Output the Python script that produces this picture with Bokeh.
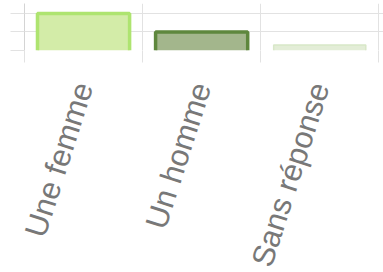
from bokeh.plotting import figure
from bokeh.models import LinearAxis, FixedTicker, Range1d, ColumnDataSource
from bokeh.embed import file_html
from bokeh.resources import INLINE

categories = ["Une femme", "Un homme", "Sans réponse"]
values = [20, 10, 3]
y_ticks = [0, 10, 20]
fill_colors = ["#d3eca8", "#a3b68c", "#e3edd7"]
border_colors = ["#aee470", "#5e873d", "#d8e7c8"]

grid_color = "#e2e2e2"
label_color = "#787878"
bar_width = 0.78

centers = [i + 0.5 for i in range(len(categories))]
bounds = list(range(len(categories) + 1))

p = figure(frame_width=359, frame_height=47, x_range=Range1d(0, 3.04), y_range=Range1d(0, 25.4),
           output_backend="svg", toolbar_location=None,
           min_border_left=24, min_border_top=3, min_border_right=0, min_border_bottom=0,
           outline_line_color=None)

# boundary tick axis (default x axis)
xa = p.xaxis[0]
xa.ticker = FixedTicker(ticks=bounds)
xa.major_label_overrides = {b: "" for b in bounds}
xa.major_tick_out = 12
xa.major_tick_in = 0
xa.major_tick_line_color = grid_color
xa.minor_tick_line_color = None
xa.axis_line_color = None
xa.major_label_text_font_size = "1px"
xa.major_label_standoff = 0

# label axis
la = LinearAxis(ticker=FixedTicker(ticks=centers),
                major_label_overrides={c: n for c, n in zip(centers, categories)},
                major_tick_line_color=None, minor_tick_line_color=None, axis_line_color=None,
                major_label_orientation=1.26, major_label_text_font_size="31px",
                major_label_text_font="Liberation Sans", major_label_text_color=label_color,
                major_label_standoff=15)
p.add_layout(la, "below")

ya = p.yaxis[0]
ya.ticker = FixedTicker(ticks=y_ticks)
ya.major_label_overrides = {t: "" for t in y_ticks}
ya.major_tick_out = 14
ya.major_tick_in = 0
ya.major_tick_line_color = grid_color
ya.minor_tick_line_color = None
ya.axis_line_color = "#d4d4d4"
ya.major_label_text_font_size = "1px"
ya.major_label_standoff = 0

p.xgrid.ticker = FixedTicker(ticks=bounds)
p.xgrid.grid_line_color = grid_color
p.ygrid.ticker = FixedTicker(ticks=y_ticks)
p.ygrid.grid_line_color = grid_color

src = ColumnDataSource(dict(x=centers, top=values, fill=fill_colors))
p.vbar(x="x", top="top", width=bar_width, bottom=0, fill_color="fill", line_color=None, source=src)

xs = [[c - bar_width / 2, c - bar_width / 2, c + bar_width / 2, c + bar_width / 2] for c in centers]
ys = [[0, v, v, 0] for v in values]
p.multi_line(xs=xs, ys=ys, line_color=border_colors, line_width=[3.5, 3.5, 1.5])

open("out.html", "w").write(file_html(p, INLINE))
